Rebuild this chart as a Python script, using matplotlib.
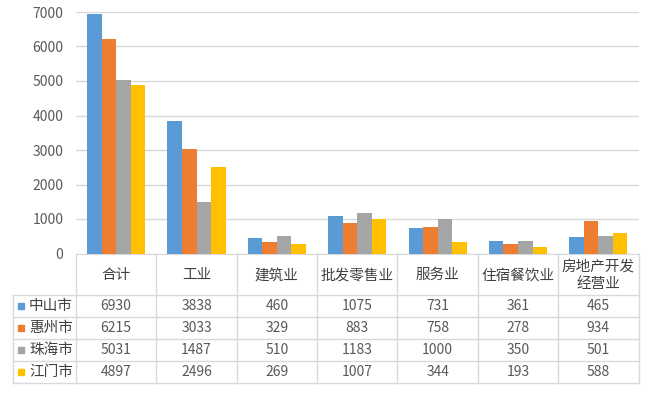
import numpy as np
import matplotlib
matplotlib.use('Agg')
import matplotlib.pyplot as plt

plt.rcParams['font.family'] = ['Noto Sans CJK SC', 'DejaVu Sans']

categories = ['合计', '工业', '建筑业', '批发零售业', '服务业', '住宿餐饮业', '房地产开发\n经营业']
cities = ['中山市', '惠州市', '珠海市', '江门市']
zhongshan = [6930, 3838, 460, 1075, 731, 361, 465]
huizhou = [6215, 3033, 329, 883, 758, 278, 934]
zhuhai = [5031, 1487, 510, 1183, 1000, 350, 501]
jiangmen = [4897, 2496, 269, 1007, 344, 193, 588]
series = [zhongshan, huizhou, zhuhai, jiangmen]
colors = ['#5B9BD5', '#ED7D31', '#A5A5A5', '#FFC000']

W, H = 649, 394
fig = plt.figure(figsize=(W / 100, H / 100), dpi=100)

# plot area in pixels
x0, x1 = 76, 638.5
ytop, ybot = 12, 253.5
ax = fig.add_axes([x0 / W, 1 - ybot / H, (x1 - x0) / W, (ybot - ytop) / H])

n = len(categories)
x = np.arange(n)
bw = 0.181
for i, (vals, c) in enumerate(zip(series, colors)):
    ax.bar(x + (i - 1.5) * bw, vals, bw, color=c, zorder=3)

ax.set_xlim(-0.5, n - 0.5)
ax.set_ylim(0, 7000)
ax.set_yticks(range(0, 7001, 1000))
ax.grid(axis='y', color='#D9D9D9', linewidth=1, zorder=0)
ax.set_xticks([])
for s in ['top', 'right', 'left']:
    ax.spines[s].set_visible(False)
ax.spines['bottom'].set_color('#D9D9D9')
ax.tick_params(axis='y', length=0, pad=9, labelsize=10, labelcolor='#595959')

# data table drawn below the plot area, in pixel coordinates
tb = fig.add_axes([0, 0, 1, 1])
tb.set_xlim(0, W)
tb.set_ylim(H, 0)
tb.axis('off')
tb.patch.set_alpha(0)

lc = '#D9D9D9'
cols = np.linspace(x0, x1, n + 1)
rows = [ybot, 295, 317, 339, 361, 383]
tl = 13

for cx in cols:
    tb.plot([cx, cx], [ybot, rows[-1]], color=lc, lw=1)
tb.plot([tl, tl], [rows[1], rows[-1]], color=lc, lw=1)
for ry in rows[1:]:
    tb.plot([tl, x1], [ry, ry], color=lc, lw=1)

for j, cat in enumerate(categories):
    cx = (cols[j] + cols[j + 1]) / 2
    tb.text(cx, (rows[0] + rows[1]) / 2 + 1, cat, ha='center', va='center',
            fontsize=10.5, color='#404040', linespacing=1.3)

for i, (city, vals, c) in enumerate(zip(cities, series, colors)):
    cy = (rows[i + 1] + rows[i + 2]) / 2
    tb.add_patch(plt.Rectangle((17.5, cy - 3), 6, 6, color=c))
    tb.text(29, cy, city, ha='left', va='center', fontsize=10.5, color='#404040')
    for j, v in enumerate(vals):
        cx = (cols[j] + cols[j + 1]) / 2
        tb.text(cx, cy, str(v), ha='center', va='center', fontsize=10, color='#595959')

fig.savefig('out.png', dpi=100)
